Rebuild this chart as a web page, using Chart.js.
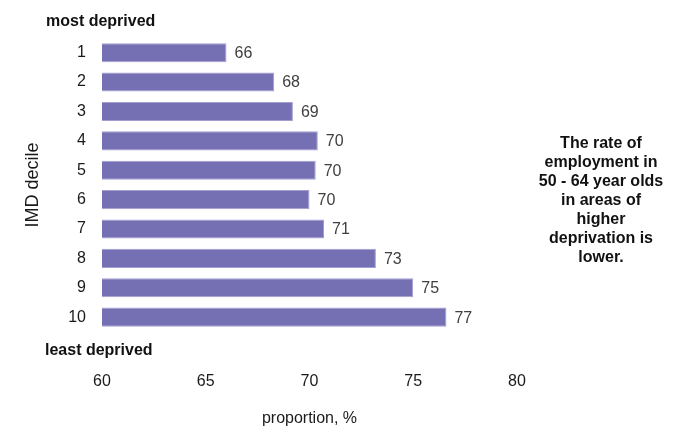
<!DOCTYPE html>
<html>
<head>
<meta charset="utf-8">
<script src="https://cdn.jsdelivr.net/npm/chart.js@4/dist/chart.umd.min.js"></script>
<style>
  html, body { margin: 0; padding: 0; background: #ffffff; }
  #wrap { width: 692px; height: 432px; position: relative; }
</style>
</head>
<body>
<div id="wrap"><canvas id="chart" width="692" height="432"></canvas></div>
<script>
// IMD deciles, 1 = most deprived, 10 = least deprived
const deciles = ['1', '2', '3', '4', '5', '6', '7', '8', '9', '10'];
// Employment rate (%) among 50 - 64 year olds by decile
const employmentRate = [66.0, 68.3, 69.2, 70.4, 70.3, 70.0, 70.7, 73.2, 75.0, 76.6];
// X axis range and tick step
const xMin = 60;
const xMax = 80;
const xStep = 5;
const xTitle = 'proportion, %';
const yTitle = 'IMD decile';
const topNote = 'most deprived';
const bottomNote = 'least deprived';
const sideNote = ['The rate of', 'employment in', '50 - 64 year olds', 'in areas of', 'higher', 'deprivation is', 'lower.'];

const FONT = "'Liberation Sans', Arial, sans-serif";
const BAR = '#7570b3';

// Value labels at the end of each bar, and the annotation texts
const annotations = {
  id: 'annotations',
  afterDatasetsDraw(chart) {
    const ctx = chart.ctx;
    const meta = chart.getDatasetMeta(0);
    ctx.save();
    ctx.font = '16px ' + FONT;
    ctx.fillStyle = '#404040';
    ctx.textAlign = 'left';
    ctx.textBaseline = 'middle';
    meta.data.forEach((el, i) => {
      ctx.fillText(String(Math.round(employmentRate[i])), el.x + 8, el.y + 1);
    });
    ctx.restore();
  },
  afterDraw(chart) {
    const ctx = chart.ctx;
    ctx.save();
    ctx.fillStyle = '#111111';
    ctx.font = 'bold 16px ' + FONT;
    ctx.textBaseline = 'alphabetic';
    ctx.textAlign = 'left';
    ctx.fillText(topNote, 46, 25.5);
    ctx.fillText(bottomNote, 45, 355);
    ctx.textAlign = 'center';
    sideNote.forEach((line, i) => {
      ctx.fillText(line, 601, 148.3 + i * 18.9);
    });
    ctx.restore();
  }
};

new Chart(document.getElementById('chart'), {
  type: 'bar',
  data: {
    labels: deciles,
    datasets: [{
      data: employmentRate,
      backgroundColor: BAR,
      borderColor: '#a29ed0',
      borderWidth: 1,
      borderSkipped: false,
      barPercentage: 0.65,
      categoryPercentage: 1.0
    }]
  },
  options: {
    indexAxis: 'y',
    responsive: false,
    animation: false,
    devicePixelRatio: 1,
    layout: { padding: { left: 10, right: 175, top: 38, bottom: 0 } },
    plugins: {
      legend: { display: false },
      tooltip: { enabled: false }
    },
    scales: {
      x: {
        type: 'linear',
        min: xMin,
        max: xMax,
        afterFit(scale) { scale.height = 100.2; },
        grid: { display: false, drawTicks: false },
        border: { display: false },
        ticks: {
          stepSize: xStep,
          padding: 40,
          color: '#1a1a1a',
          font: { family: FONT, size: 16 }
        },
        title: {
          display: true,
          text: xTitle,
          color: '#1a1a1a',
          font: { family: FONT, size: 16 },
          padding: { top: 0, bottom: 4 }
        }
      },
      y: {
        type: 'category',
        afterFit(scale) { scale.width = 92; },
        grid: { display: false, drawTicks: false },
        border: { display: false },
        ticks: {
          padding: 16,
          color: '#1a1a1a',
          font: { family: FONT, size: 16 }
        },
        title: {
          display: true,
          text: yTitle,
          color: '#1a1a1a',
          font: { family: FONT, size: 18 },
          padding: { top: 12, bottom: 0 }
        }
      }
    }
  },
  plugins: [annotations]
});
</script>
</body>
</html>
